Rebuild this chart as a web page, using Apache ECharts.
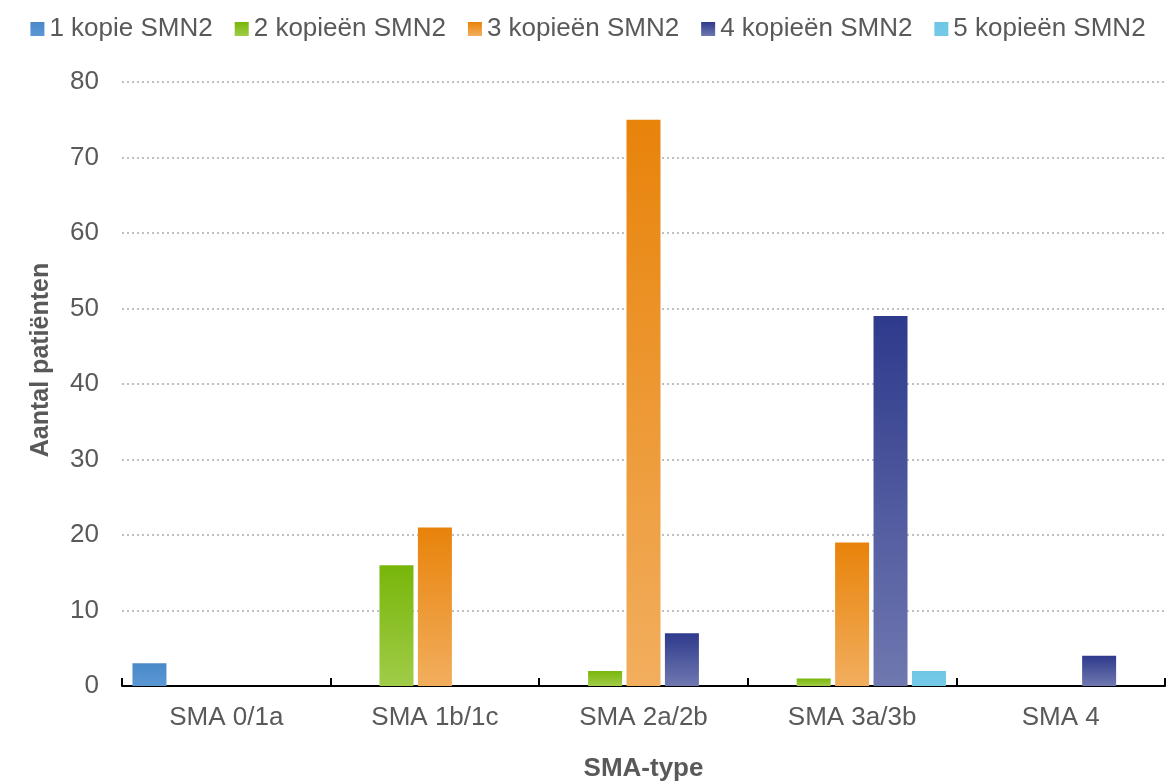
<!DOCTYPE html>
<html><head><meta charset="utf-8">
<script src="https://cdn.jsdelivr.net/npm/echarts@6/dist/echarts.min.js"></script>
<style>html,body{margin:0;padding:0;background:#fff}#c{width:1176px;height:782px}</style>
</head><body><div id="c"></div>
<script>
const categories = ['SMA 0/1a', 'SMA 1b/1c', 'SMA 2a/2b', 'SMA 3a/3b', 'SMA 4'];
const seriesNames = ['1 kopie SMN2', '2 kopieën SMN2', '3 kopieën SMN2', '4 kopieën SMN2', '5 kopieën SMN2'];
const kopie1 = [3, null, null, null, null];
const kopie2 = [null, 16, 2, 1, null];
const kopie3 = [null, 21, 75, 19, null];
const kopie4 = [null, null, 7, 49, 4];
const kopie5 = [null, null, null, 2, null];
const yTicks = [0, 10, 20, 30, 40, 50, 60, 70, 80];

const allData = [kopie1, kopie2, kopie3, kopie4, kopie5];
const topColors = ['#4A89C8', '#78B60A', '#E8830A', '#2E3A8C', '#6EC6E6'];
const botColors = ['#5A98D4', '#A0CC48', '#F2AE5E', '#7078B0', '#74C9E8'];
const textColor = '#595959';
const font = 'Liberation Sans, Arial, sans-serif';

const chart = echarts.init(document.getElementById('c'));
chart.setOption({
  animation: false,
  textStyle: { fontFamily: font },
  legend: {
    top: 11, left: 'center',
    itemWidth: 14, itemHeight: 14, itemGap: 22,
    icon: 'rect',
    textStyle: { fontSize: 26, color: textColor, fontFamily: font },
    data: seriesNames
  },
  grid: { left: 122, right: 11, top: 82, bottom: 96, containLabel: false, outerBoundsMode: 'none' },
  xAxis: {
    type: 'category', data: categories,
    name: 'SMA-type', nameLocation: 'middle', nameGap: 70,
    nameTextStyle: { fontSize: 26, fontWeight: 'bold', color: textColor, fontFamily: font },
    axisLine: { lineStyle: { color: '#000', width: 2 } },
    axisTick: { show: true, inside: true, length: 8, alignWithLabel: false, lineStyle: { color: '#000', width: 2 } },
    axisLabel: { fontSize: 26, color: textColor, margin: 19, fontFamily: font }
  },
  yAxis: {
    type: 'value', min: yTicks[0], max: yTicks[yTicks.length - 1], interval: 10,
    name: 'Aantal patiënten', nameLocation: 'middle', nameGap: 68,
    nameTextStyle: { fontSize: 25, fontWeight: 'bold', color: textColor, fontFamily: font, padding: [0, 0, 0, 48] },
    axisLine: { show: false }, axisTick: { show: false },
    axisLabel: { fontSize: 26, color: textColor, margin: 23, fontFamily: font },
    splitLine: { lineStyle: { color: '#BFBFBF', type: [2, 3], width: 2 } }
  },
  series: seriesNames.map((n, i) => ({
    name: n, type: 'bar', data: allData[i],
    barWidth: 34, barGap: '13%', barCategoryGap: '10%',
    itemStyle: {
      color: new echarts.graphic.LinearGradient(0, 0, 0, 1, [
        { offset: 0, color: topColors[i] }, { offset: 1, color: botColors[i] }
      ])
    }
  }))
});
</script></body></html>
